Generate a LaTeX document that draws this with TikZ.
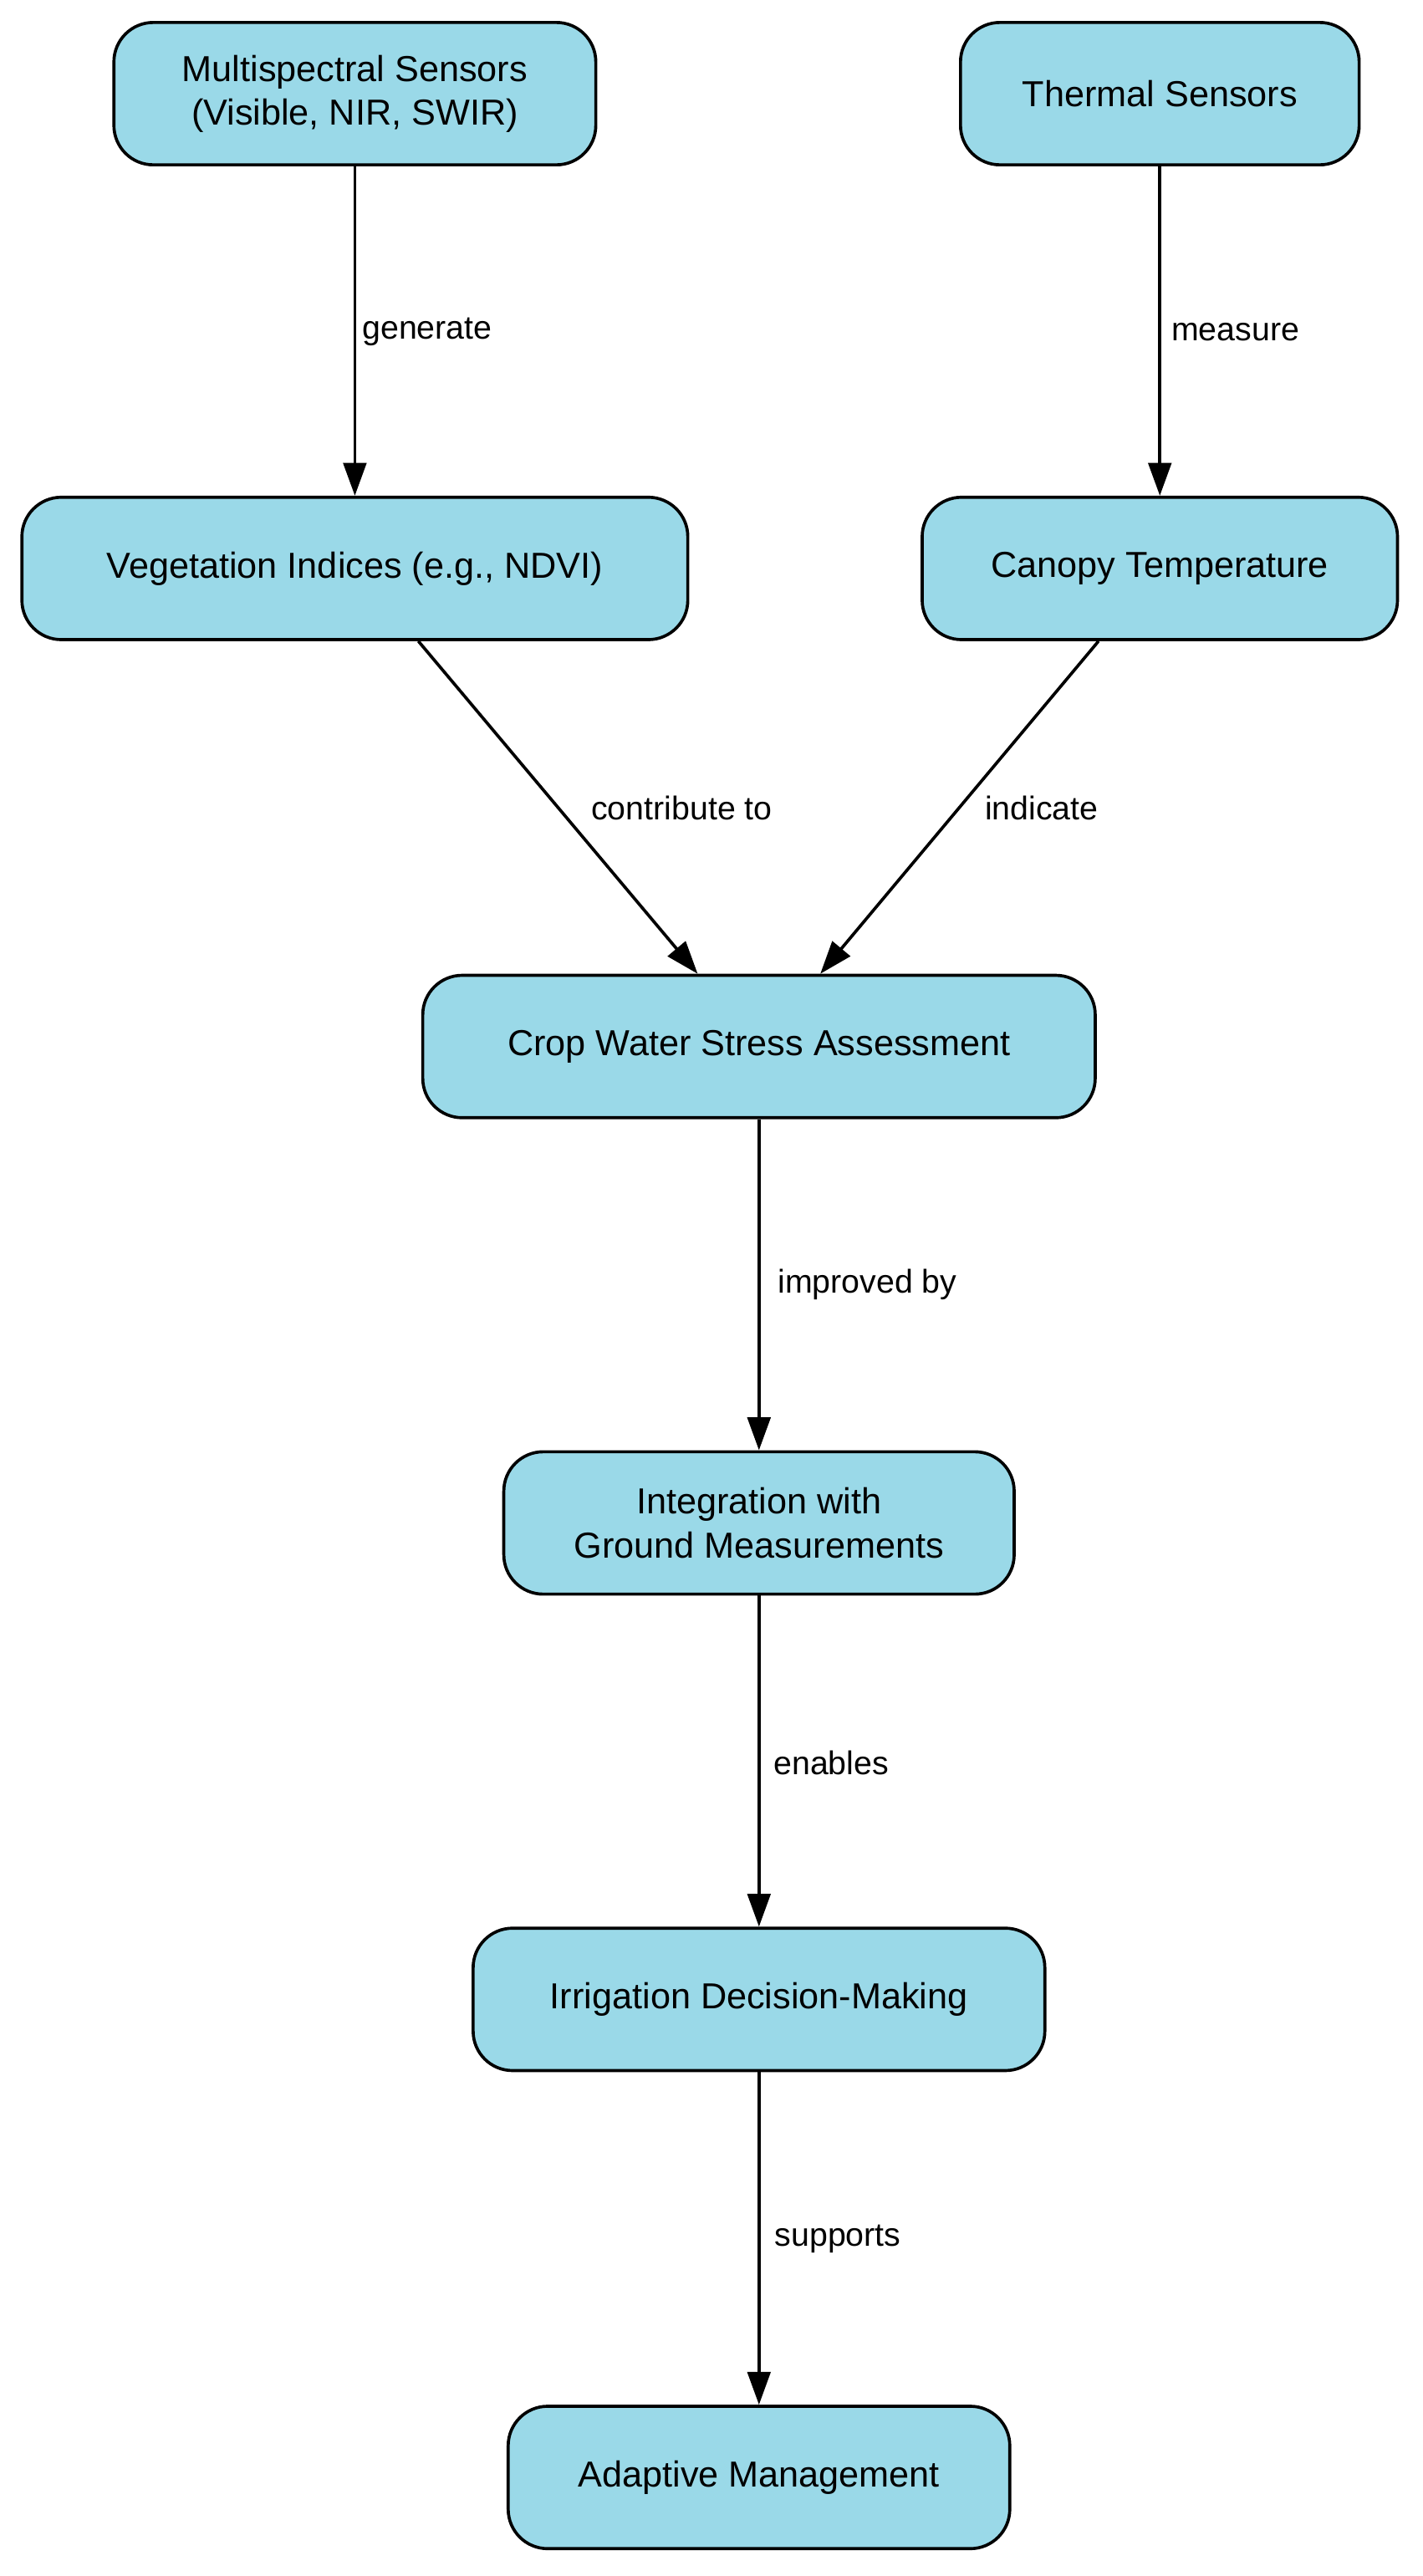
\documentclass[tikz,border=0pt]{standalone}
\usepackage{fontspec}
\setmainfont{Liberation Sans}
\usetikzlibrary{arrows.meta}
\begin{document}
\begin{tikzpicture}[x=0.75pt,y=-0.75pt,
  box/.style={draw=black,line width=1.4pt,fill=boxc,rounded corners=18pt,minimum height=65pt,align=center,font=\fontsize{16.5}{20}\selectfont,inner sep=0pt},
  lab/.style={font=\fontsize{15}{18}\selectfont,inner sep=0pt},
  arr/.style={line width=1.4pt,-{Triangle[length=15pt,width=10.5pt]}}]
\definecolor{boxc}{HTML}{9AD9E8}
\useasboundingbox (0,0) rectangle (866,1568);
\node[box,minimum width=220pt] (ms) at (216,57) {Multispectral Sensors\\(Visible, NIR, SWIR)};
\node[box,minimum width=182pt] (th) at (706,57) {Thermal Sensors};
\node[box,minimum width=304pt] (veg) at (216,346) {Vegetation Indices (e.g., NDVI)};
\node[box,minimum width=217pt] (can) at (706,346) {Canopy Temperature};
\node[box,minimum width=307pt] (crop) at (462,637) {Crop Water Stress Assessment};
\node[box,minimum width=233pt] (int) at (462,927) {Integration with\\Ground Measurements};
\node[box,minimum width=261pt] (irr) at (462,1217) {Irrigation Decision-Making};
\node[box,minimum width=229pt] (ad) at (462,1508) {Adaptive Management};
\draw[arr] (ms) -- (veg);
\draw[arr] (th) -- (can);
\draw[arr] ([xshift=29pt]veg.south) -- ([xshift=-28pt]crop.north);
\draw[arr] ([xshift=-28pt]can.south) -- ([xshift=28pt]crop.north);
\draw[arr] (crop) -- (int);
\draw[arr] (int) -- (irr);
\draw[arr] (irr) -- (ad);
\node[lab] (l1) at (260,202) {generate};
\node[lab] (l2) at (752,202) {measure};
\node[lab] (l3) at (415,492) {contribute to};
\node[lab] (l4) at (634,492) {indicate};
\node[lab] (l5) at (528,782) {improved by};
\node[lab] (l6) at (506,1073) {enables};
\node[lab] (l7) at (510,1363) {supports};
\end{tikzpicture}
\end{document}
